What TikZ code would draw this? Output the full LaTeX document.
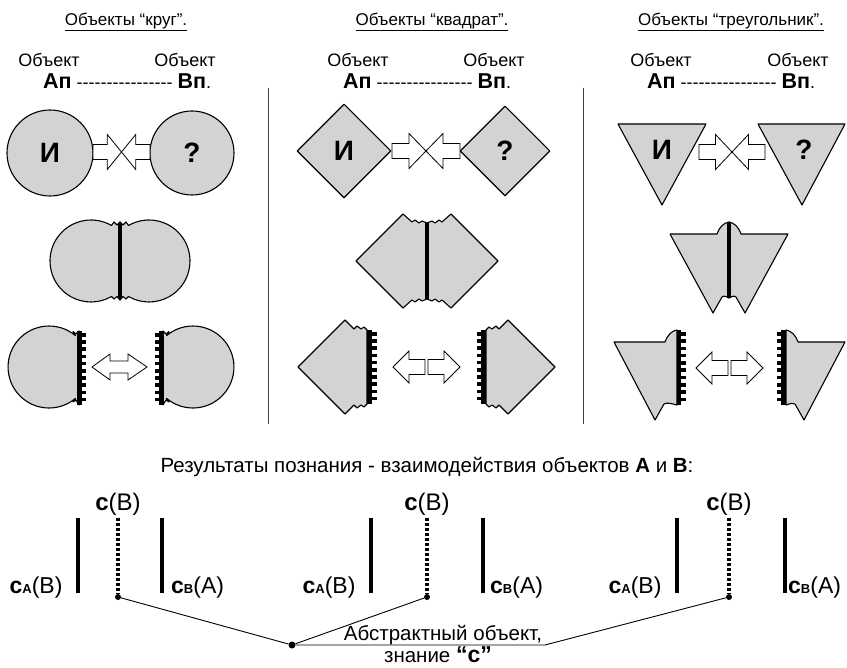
\documentclass[tikz,border=0pt]{standalone}
\usepackage{fontspec}
\setmainfont{Liberation Sans}[Ligatures=TeXOff]
\usetikzlibrary{shapes.geometric}
\definecolor{objgray}{RGB}{211,211,211}
\tikzset{
	obj/.style={draw=black, fill=objgray, line width=1.1pt, line join=round},
	seam/.style={line width=3.5pt},
	hollow/.style={draw=black, fill=white, line width=0.8pt},
	sepline/.style={line width=1pt, black!75},
	title/.style={font=\fontsize{17}{20}\selectfont},
	word/.style={font=\fontsize{18}{21}\selectfont},
	letter/.style={font=\fontsize{28}{30}\selectfont\bfseries},
	know/.style={font=\fontsize{23}{26}\selectfont},
	txt/.style={font=\fontsize{20.5}{23}\selectfont},
	knowbar/.style={line width=4pt},
	dotbar/.style={line width=4pt, dash pattern=on 3pt off 2pt},
	dot/.style={circle, fill=black, inner sep=0pt, minimum size=6pt},
	link/.style={line width=0.9pt},
	pics/meetarrows/.style={code={
		\draw[hollow] (-#1,-7.5) -- (-#1/2,-7.5) -- (-#1/2,-17.5) -- (0,0) -- (-#1/2,17.5) -- (-#1/2,7.5) -- (-#1,7.5) -- cycle;
		\draw[hollow] (#1,-7.5) -- (#1/2,-7.5) -- (#1/2,-17.5) -- (0,0) -- (#1/2,17.5) -- (#1/2,7.5) -- (#1,7.5) -- cycle;
	}},
	pics/apartarrows/.style={code={
		\draw[hollow] (-1.5,-7.5) -- (-#1+16,-7.5) -- (-#1+16,-16) -- (-#1,0) -- (-#1+16,16) -- (-#1+16,7.5) -- (-1.5,7.5) -- cycle;
		\draw[hollow] (1.5,-7.5) -- (#1-16,-7.5) -- (#1-16,-16) -- (#1,0) -- (#1-16,16) -- (#1-16,7.5) -- (1.5,7.5) -- cycle;
	}}
}
\newcommand{\kn}[1]{\textbf{с}{\fontsize{13}{13}\selectfont\bfseries #1}}
\newcommand{\ob}[1]{{\fontsize{21.5}{23}\selectfont\bfseries #1}}

\begin{document}
\begin{tikzpicture}[x=1pt,y=-1pt]
	\useasboundingbox (0,0) rectangle (847,668);
	% headers
	\node[title] (t1) at (126,22) {\underline{Объекты “круг”.}};
	\node[title] (t2) at (432,22) {\underline{Объекты “квадрат”.}};
	\node[title] (t3) at (731,22) {\underline{Объекты “треугольник”.}};
	\foreach \xa/\xb/\xs [count=\i] in {49/185/43, 358/494/343, 661/798/647} {
		\node[word] (oa\i) at (\xa,60) {Объект};
		\node[word] (ob\i) at (\xb,60) {Объект};
		\node[word, anchor=west, inner sep=0pt] (ab\i) at (\xs,81) {\ob{Ап} ---------------- \ob{Вп}.};
	}
	\draw[sepline] (268,88) -- (268,424);
	\draw[sepline] (583,88) -- (583,424);

	% circles
	\node[obj, circle, minimum size=86pt, inner sep=0pt, letter] (ia) at (50,153) {И};
	\node[obj, circle, minimum size=84pt, inner sep=0pt, letter] (qa) at (192,153) {?};
	\pic at (121.5,152) {meetarrows=28.5};
	\draw[obj] (120,222) -- (117,225) -- (114,222) -- (111.5,225.5) arc[start angle=-60, end angle=-300, radius=41] -- (114,299) -- (117,296.5) -- (120,300) -- cycle;
	\draw[obj] (120,222) -- (123,225) -- (126,222) -- (128.5,225.5) arc[start angle=240, end angle=480, radius=41] -- (126,299) -- (123,296.5) -- (120,300) -- cycle;
	\draw[seam] (120,223) -- (120,299);
	\draw[obj] (79,331) -- (76,334) -- (73,331.5) -- (75.4,335.6) arc[start angle=-50, end angle=-310, radius=41] -- (73,402) -- (76,400) -- (79,405) -- cycle;
	\draw[obj] (163,331) -- (166,334) -- (169,331.5) -- (166.6,335.6) arc[start angle=230, end angle=490, radius=41] -- (169,402) -- (166,400) -- (163,405) -- cycle;
	\fill (77,331) rectangle (82,405);
	\fill (159,331) rectangle (164,405);
	\foreach \k in {0,...,9} {
		\fill (82,333+7.2*\k) rectangle +(4,3.6);
		\fill (159,333+7.2*\k) rectangle +(-4,3.6);
	}
	\draw[hollow] (92,367) -- (110,354) -- (110,361) -- (128,361) -- (128,354) -- (147,367) -- (128,380) -- (128,373) -- (110,373) -- (110,380) -- cycle;

	% squares
	\node[obj, diamond, minimum size=94pt, inner sep=0pt, letter] (ib) at (344,151) {И};
	\node[obj, diamond, minimum size=90pt, inner sep=0pt, letter] (qb) at (505,151) {?};
	\pic at (426,151) {meetarrows=34};
	\draw[obj] (427,223) -- (422,221) -- (419,223) -- (415,220) -- (412,222) -- (403,214) -- (356,261) -- (403,308) -- (412,300) -- (415,302) -- (419,299) -- (422,301) -- (427,299) -- cycle;
	\draw[obj] (427,223) -- (432,221) -- (435,223) -- (439,220) -- (442,222) -- (451,214) -- (498,261) -- (451,308) -- (442,300) -- (439,302) -- (435,299) -- (432,301) -- (427,299) -- cycle;
	\draw[seam] (427,223) -- (427,299);
	\draw[obj] (367,330) -- (364,327) -- (361,329) -- (357,326) -- (354,329) -- (345,320) -- (298,367) -- (345,414) -- (354,405) -- (357,408) -- (361,405) -- (364,407) -- (367,404) -- cycle;
	\draw[obj] (486,330) -- (489,327) -- (492,329) -- (496,326) -- (499,329) -- (508,320) -- (555,367) -- (508,414) -- (499,405) -- (496,408) -- (492,405) -- (489,407) -- (486,404) -- cycle;
	\fill (367,330) rectangle (372,404);
	\fill (481,330) rectangle (486,404);
	\foreach \k in {0,...,9} {
		\fill (372,332+7.2*\k) rectangle +(4.5,3.6);
		\fill (481,332+7.2*\k) rectangle +(-4.5,3.6);
	}
	\pic at (426.5,367) {apartarrows=33.5};

	% triangles
	\draw[obj] (618,124) -- (706,124) -- (662,205) -- cycle;
	\draw[obj] (758,124) -- (845,124) -- (802,205) -- cycle;
	\node[letter] (ic) at (662,150) {И};
	\node[letter] (qc) at (804,150) {?};
	\pic at (732,152) {meetarrows=33};
	\draw[obj] (729,222) .. controls (724,223) and (720,226) .. (717,234) -- (670,234) -- (713,313) -- (722,297) .. controls (724,295) and (727,297) .. (729,298) -- cycle;
	\draw[obj] (729,222) .. controls (734,223) and (738,226) .. (741,234) -- (788,234) -- (745,313) -- (736,297) .. controls (734,295) and (731,297) .. (729,298) -- cycle;
	\draw[seam] (729,223) -- (729,298);
	\draw[obj] (677,330) .. controls (672,331) and (668,334) .. (665,342) -- (614,342) -- (655,420) -- (664,404) .. controls (667,402) and (673,404) .. (677,405) -- cycle;
	\draw[obj] (786,330) .. controls (791,331) and (795,334) .. (798,342) -- (845,342) -- (804,420) -- (795,404) .. controls (792,402) and (790,404) .. (786,405) -- cycle;
	\fill (677,330) rectangle (681,405);
	\fill (781,330) rectangle (786,405);
	\foreach \k in {0,...,9} {
		\fill (681,332+7.3*\k) rectangle +(4.5,3.6);
		\fill (781,332+7.3*\k) rectangle +(-4.5,3.6);
	}
	\pic at (729.5,368) {apartarrows=33.5};

	% results
	\node[txt] (res) at (427,467) {Результаты познания - взаимодействия объектов \textbf{А} и \textbf{В}:};
	\foreach \xa/\xc/\xb/\gap [count=\i] in {78/118/162/9, 371/427/483/7, 677/729/785/3} {
		\draw[knowbar] (\xa,518) -- (\xa,593);
		\draw[knowbar] (\xb,518) -- (\xb,593);
		\node[dot] (d\i) at (\xc,597) {};
		\draw[dotbar] (\xc,518) -- (d\i);
		\node[know, font=\fontsize{24}{26}\selectfont] (cb\i) at (\xc,504) {\textbf{с}(В)};
		\node[know, anchor=east] (ca\i) at (\xa-12,588) {\kn{А}(В)};
		\node[know, anchor=west, inner sep=0pt] (cc\i) at (\xb+\gap,588) {\kn{В}(А)};
	}
	\node[dot, minimum size=7pt] (ctr) at (292,645) {};
	\coordinate (ul) at (545,645);
	\draw[link] (ctr) -- (d1);
	\draw[link] (ctr) -- (d2);
	\draw[link] (ctr) -- (ul) -- (d3);
	\node[txt, anchor=base, inner sep=0pt] (abs) at (443,640) {Абстрактный объект,};
	\node[txt, anchor=base, inner sep=0pt] (zn) at (438,662) {знание {\fontsize{23}{25}\selectfont\bfseries “с”}};
\end{tikzpicture}
\end{document}
